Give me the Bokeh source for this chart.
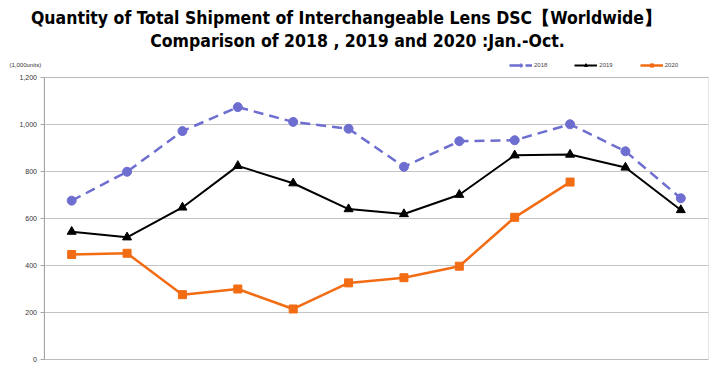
from bokeh.plotting import figure
from bokeh.models import (Range1d, Label, Legend, LegendItem, NumeralTickFormatter,
                          FixedTicker, LinearAxis, Grid, BoxAnnotation)
from bokeh.embed import file_html
from bokeh.resources import INLINE

months = ["Jan", "Feb", "Mar", "Apr", "May", "Jun", "Jul", "Aug", "Sep", "Oct", "Nov", "Dec"]
month_idx = list(range(1, 13))
v2018 = [676, 799, 972, 1074, 1011, 982, 820, 929, 933, 1001, 886, 686]
v2019 = [544, 520, 647, 824, 750, 640, 619, 701, 869, 872, 817, 636]
v2020 = [447, 452, 276, 300, 215, 326, 348, 397, 605, 755]
y_ticks = [0, 200, 400, 600, 800, 1000, 1200]
series_names = ["2018", "2019", "2020"]
units_text = "(1,000units)"
title1 = "Quantity of Total Shipment of Interchangeable Lens DSC\u3010Worldwide\u3011"
title2 = "Comparison of 2018 , 2019 and 2020 :Jan.-Oct."

c2018 = "#6E6ED0"
c2019 = "#000000"
c2020 = "#F26C14"
grey = "#A6A6A6"

# canvas and inner plot-box geometry (pixels)
W, H = 716, 364
BOX_L, BOX_R, BOX_T, BOX_B = 43.5, 708.0, 77.0, 359.0
X0, X1 = 0.5, 12.5
Y0, Y1 = 0, 1200
px_x = (BOX_R - BOX_L) / (X1 - X0)
px_y = (BOX_B - BOX_T) / (Y1 - Y0)
x_range = Range1d(X0 - BOX_L / px_x, X1 + (W - BOX_R) / px_x)
y_range = Range1d(Y0 - (H - BOX_B) / px_y, Y1 + BOX_T / px_y)

p = figure(width=W, height=H, output_backend="svg", toolbar_location=None,
           x_range=x_range, y_range=y_range,
           x_axis_location=None, y_axis_location=None, title=None,
           min_border=0, min_border_left=0, min_border_right=0,
           min_border_top=0, min_border_bottom=0)
p.outline_line_color = None
p.grid.visible = False

yaxis = LinearAxis(fixed_location=X0, bounds=(Y0, Y1),
                   ticker=FixedTicker(ticks=y_ticks),
                   formatter=NumeralTickFormatter(format="0,0"))
yaxis.axis_line_color = grey
yaxis.major_tick_line_color = grey
yaxis.major_tick_out = 4
yaxis.major_tick_in = 0
yaxis.minor_tick_line_color = None
yaxis.major_label_text_font = "Liberation Sans"
yaxis.major_label_text_font_size = "7px"
yaxis.major_label_text_color = "#333333"
yaxis.major_label_standoff = 3
p.add_layout(yaxis, "left")

grid = Grid(dimension=1, ticker=FixedTicker(ticks=y_ticks),
            grid_line_color="#C4C4C4", grid_line_width=1)
if "cross_bounds" in Grid.properties():
    grid.cross_bounds = (X0, X1)
p.add_layout(grid)

p.add_layout(BoxAnnotation(left=X0, right=X1, bottom=Y0, top=Y1, fill_alpha=0,
                           line_color=grey, line_width=1, level="underlay"))

r18l = p.line(month_idx, v2018, line_color=c2018, line_width=2.5, line_dash="10 6")
r18m = p.scatter(month_idx, v2018, marker="circle", size=9, fill_color=c2018, line_color=c2018)
r19l = p.line(month_idx, v2019, line_color=c2019, line_width=2)
r19m = p.scatter(month_idx, v2019, marker="triangle", size=9, fill_color=c2019, line_color=c2019)
r20l = p.line(month_idx[:len(v2020)], v2020, line_color=c2020, line_width=2.5)
r20m = p.scatter(month_idx[:len(v2020)], v2020, marker="square", size=8, fill_color=c2020, line_color=c2020)

legend = Legend(items=[
    LegendItem(label=series_names[0], renderers=[r18l, r18m]),
    LegendItem(label=series_names[1], renderers=[r19l, r19m]),
    LegendItem(label=series_names[2], renderers=[r20l, r20m]),
], orientation="horizontal", location=(509, H - 65 - 4),
    label_text_font="Liberation Sans", label_text_font_size="6px",
    glyph_width=23, glyph_height=8, label_standoff=2, spacing=27, label_width=13,
    padding=0, margin=0, border_line_color=None, background_fill_alpha=0,
    label_height=8)
p.add_layout(legend)

p.add_layout(Label(x=9, y=H - 64, x_units="screen", y_units="screen", text=units_text,
                   text_font="Liberation Sans", text_font_size="6px", text_color="#333333",
                   text_baseline="middle", text_align="left"))
p.add_layout(Label(x=346, y=H - 17.5, x_units="screen", y_units="screen", text=title1,
                   text_font="DejaVu Sans Condensed", text_font_style="bold",
                   text_font_size="17.5px", text_color="#000000",
                   text_align="center", text_baseline="alphabetic"))
p.add_layout(Label(x=357, y=H - 40.5, x_units="screen", y_units="screen", text=title2,
                   text_font="DejaVu Sans Condensed", text_font_style="bold",
                   text_font_size="17.5px", text_color="#000000",
                   text_align="center", text_baseline="alphabetic"))

open("out.html", "w").write(file_html(p, INLINE))
